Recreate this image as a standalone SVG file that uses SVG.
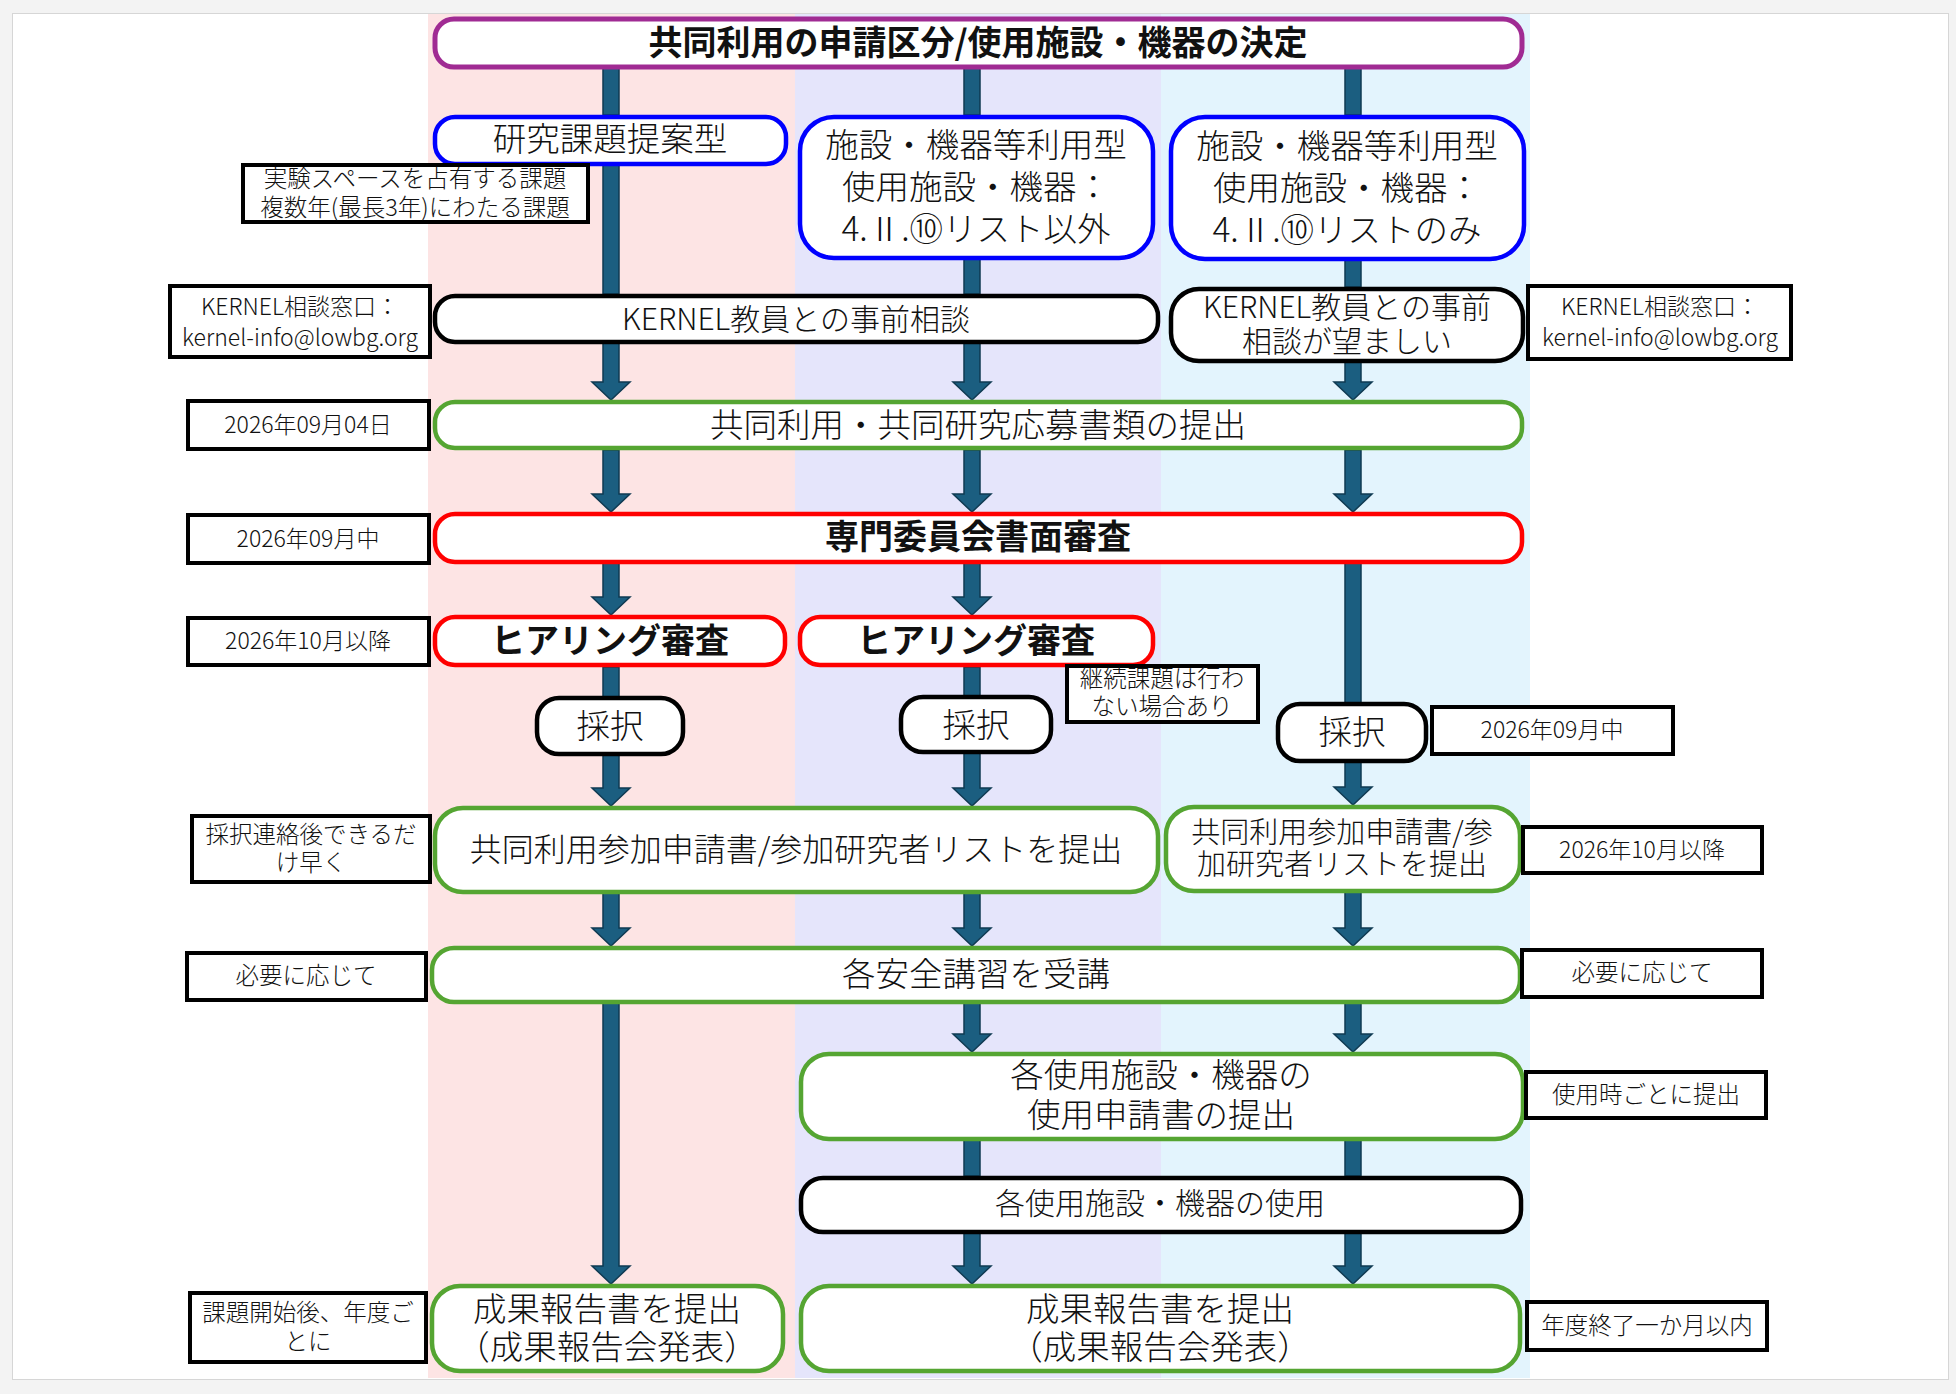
<svg xmlns="http://www.w3.org/2000/svg" width="1956" height="1394" viewBox="0 0 1956 1394">
<style>
text{font-family:"Noto Sans CJK JP","Noto Sans",sans-serif;fill:#111;text-anchor:middle;dominant-baseline:central;font-weight:300;transform:translateY(-2px)}
.t33{font-size:33.5px}
.t32{font-size:32px}
.t30{font-size:30px}
.t29{font-size:29px}
.b33{font-size:34px;font-weight:700}
.n{font-size:23.5px}
.np{font-size:23px}
.box{fill:#fff}
.pur{stroke:#a02b93;stroke-width:5}
.blu{stroke:#0000ff;stroke-width:4.5}
.red{stroke:#ff0000;stroke-width:4.5}
.grn{stroke:#55a532;stroke-width:4.5}
.blk{stroke:#000;stroke-width:4.5}
.note{fill:#fff;stroke:#000;stroke-width:4}
.sh{fill:#1b5e80;stroke:#0f3a52;stroke-width:1.5}
</style>
<rect x="0" y="0" width="1956" height="1394" fill="#f3f3f3"/>
<rect x="12.5" y="13.5" width="1936" height="1366" fill="#fff" stroke="#d6d6d6" stroke-width="1"/>
<g id="lanes">
<rect x="428" y="14" width="367" height="1364" fill="#fde4e4"/>
<rect x="795" y="14" width="366" height="1364" fill="#e5e5fb"/>
<rect x="1161" y="14" width="369" height="1364" fill="#e3f4fd"/>
</g>
<g id="connectors">
<rect class="sh" x="603" y="67" width="16" height="48"/>
<rect class="sh" x="603" y="165" width="16" height="129"/>
<path class="sh" d="M603,343 H619 V382 H630 L611,400 L592,382 H603 Z"/>
<path class="sh" d="M603,450 H619 V494 H630 L611,512 L592,494 H603 Z"/>
<path class="sh" d="M603,563 H619 V597 H630 L611,615 L592,597 H603 Z"/>
<rect class="sh" x="603" y="667" width="16" height="30"/>
<path class="sh" d="M603,755 H619 V788 H630 L611,806 L592,788 H603 Z"/>
<path class="sh" d="M603,893 H619 V928 H630 L611,946 L592,928 H603 Z"/>
<path class="sh" d="M603,1003 H619 V1266 H630 L611,1284 L592,1266 H603 Z"/>
<rect class="sh" x="964" y="67" width="16" height="48"/>
<rect class="sh" x="964" y="258" width="16" height="36"/>
<path class="sh" d="M964,343 H980 V382 H991 L972,400 L953,382 H964 Z"/>
<path class="sh" d="M964,450 H980 V494 H991 L972,512 L953,494 H964 Z"/>
<path class="sh" d="M964,563 H980 V597 H991 L972,615 L953,597 H964 Z"/>
<rect class="sh" x="964" y="667" width="16" height="29"/>
<path class="sh" d="M964,753 H980 V788 H991 L972,806 L953,788 H964 Z"/>
<path class="sh" d="M964,893 H980 V928 H991 L972,946 L953,928 H964 Z"/>
<path class="sh" d="M964,1003 H980 V1034 H991 L972,1052 L953,1034 H964 Z"/>
<rect class="sh" x="964" y="1140" width="16" height="36"/>
<path class="sh" d="M964,1233 H980 V1266 H991 L972,1284 L953,1266 H964 Z"/>
<rect class="sh" x="1345" y="67" width="16" height="48"/>
<rect class="sh" x="1345" y="260" width="16" height="27"/>
<path class="sh" d="M1345,362 H1361 V382 H1372 L1353,400 L1334,382 H1345 Z"/>
<path class="sh" d="M1345,450 H1361 V494 H1372 L1353,512 L1334,494 H1345 Z"/>
<rect class="sh" x="1345" y="563" width="16" height="140"/>
<path class="sh" d="M1345,762 H1361 V787 H1372 L1353,805 L1334,787 H1345 Z"/>
<path class="sh" d="M1345,892 H1361 V928 H1372 L1353,946 L1334,928 H1345 Z"/>
<path class="sh" d="M1345,1003 H1361 V1034 H1372 L1353,1052 L1334,1034 H1345 Z"/>
<rect class="sh" x="1345" y="1140" width="16" height="36"/>
<path class="sh" d="M1345,1233 H1361 V1266 H1372 L1353,1284 L1334,1266 H1345 Z"/>
</g>
<g id="n-title"><rect class="box pur" x="435" y="19" width="1087" height="48" rx="19"/><text class="b33" x="978" y="42">共同利用の申請区分/使用施設・機器の決定</text></g>
<g id="n-kenkyu"><rect class="box blu" x="435" y="117" width="351" height="47" rx="20"/><text class="t33" x="610" y="138">研究課題提案型</text></g>
<g id="n-shisetsu1"><rect class="box blu" x="800" y="117" width="353" height="141" rx="34"/><text class="t33"><tspan x="976" y="144">施設・機器等利用型</tspan><tspan x="976" y="186">使用施設・機器：</tspan><tspan x="976" y="228">4.Ⅱ.⑩リスト以外</tspan></text></g>
<g id="n-shisetsu2"><rect class="box blu" x="1171" y="117" width="353" height="142" rx="34"/><text class="t33"><tspan x="1347" y="145">施設・機器等利用型</tspan><tspan x="1347" y="187">使用施設・機器：</tspan><tspan x="1347" y="229">4.Ⅱ.⑩リストのみ</tspan></text></g>
<g id="n-kernel1"><rect class="box blk" x="435" y="296" width="723" height="46" rx="20"/><text class="t30" x="796" y="319">KERNEL教員との事前相談</text></g>
<g id="n-kernel2"><rect class="box blk" x="1171" y="289" width="352" height="72" rx="28"/><text class="t30"><tspan x="1347" y="307">KERNEL教員との事前</tspan><tspan x="1347" y="341">相談が望ましい</tspan></text></g>
<g id="n-oubo"><rect class="box grn" x="435" y="402" width="1087" height="46" rx="20"/><text class="t33" x="978" y="424">共同利用・共同研究応募書類の提出</text></g>
<g id="n-shomen"><rect class="box red" x="435" y="514" width="1087" height="48" rx="20"/><text class="b33" x="978" y="536">専門委員会書面審査</text></g>
<g id="n-hearing1"><rect class="box red" x="435" y="617" width="350" height="48" rx="20"/><text class="b33" x="610" y="640">ヒアリング審査</text></g>
<g id="n-hearing2"><rect class="box red" x="800" y="617" width="353" height="48" rx="20"/><text class="b33" x="976" y="640">ヒアリング審査</text></g>
<g id="n-saitaku1"><rect class="box blk" x="537" y="698" width="146" height="56" rx="22"/><text class="t33" x="610" y="725">採択</text></g>
<g id="n-saitaku2"><rect class="box blk" x="901" y="697" width="150" height="55" rx="22"/><text class="t33" x="976" y="724">採択</text></g>
<g id="n-saitaku3"><rect class="box blk" x="1278" y="704" width="148" height="57" rx="22"/><text class="t33" x="1352" y="731">採択</text></g>
<g id="n-sanka1"><rect class="box grn" x="435" y="808" width="723" height="84" rx="28"/><text class="t32" x="796" y="849">共同利用参加申請書/参加研究者リストを提出</text></g>
<g id="n-sanka2"><rect class="box grn" x="1166" y="807" width="354" height="84" rx="28"/><text class="t29"><tspan x="1342" y="832">共同利用参加申請書/参</tspan><tspan x="1342" y="864">加研究者リストを提出</tspan></text></g>
<g id="n-anzen"><rect class="box grn" x="432" y="948" width="1088" height="54" rx="22"/><text class="t33" x="976" y="973">各安全講習を受講</text></g>
<g id="n-shinsei"><rect class="box grn" x="801" y="1054" width="722" height="85" rx="28"/><text class="t33"><tspan x="1161" y="1074">各使用施設・機器の</tspan><tspan x="1161" y="1114">使用申請書の提出</tspan></text></g>
<g id="n-shiyou"><rect class="box blk" x="801" y="1178" width="720" height="54" rx="22"/><text class="t30" x="1160" y="1203">各使用施設・機器の使用</text></g>
<g id="n-seika1"><rect class="box grn" x="432" y="1286" width="351" height="85" rx="28"/><text class="t33"><tspan x="607" y="1308">成果報告書を提出</tspan><tspan x="607" y="1346">（成果報告会発表）</tspan></text></g>
<g id="n-seika2"><rect class="box grn" x="801" y="1286" width="719" height="85" rx="28"/><text class="t33"><tspan x="1160" y="1308">成果報告書を提出</tspan><tspan x="1160" y="1346">（成果報告会発表）</tspan></text></g>
<g id="notes">
<g id="note-jikken"><rect class="note" x="243" y="165" width="345" height="57"/><text class="n"><tspan x="415" y="179">実験スペースを占有する課題</tspan><tspan x="415" y="208">複数年(最長3年)にわたる課題</tspan></text></g>
<g id="note-kernel-l"><rect class="note" x="170" y="286" width="260" height="71"/><text class="np"><tspan x="300" y="307">KERNEL相談窓口：</tspan><tspan x="300" y="338">kernel-info@lowbg.org</tspan></text></g>
<g id="note-kernel-r"><rect class="note" x="1528" y="286" width="263" height="73"/><text class="np"><tspan x="1660" y="307">KERNEL相談窓口：</tspan><tspan x="1660" y="338">kernel-info@lowbg.org</tspan></text></g>
<g id="note-d1"><rect class="note" x="188" y="401" width="241" height="48"/><text class="np" x="308" y="425">2026年09月04日</text></g>
<g id="note-d2"><rect class="note" x="188" y="515" width="241" height="48"/><text class="np" x="308" y="539">2026年09月中</text></g>
<g id="note-d3"><rect class="note" x="188" y="618" width="241" height="47"/><text class="np" x="308" y="641">2026年10月以降</text></g>
<g id="note-keizoku"><rect class="note" x="1067" y="666" width="191" height="56"/><text class="n"><tspan x="1162" y="679">継続課題は行わ</tspan><tspan x="1162" y="707">ない場合あり</tspan></text></g>
<g id="note-d4"><rect class="note" x="1432" y="707" width="241" height="47"/><text class="np" x="1552" y="730">2026年09月中</text></g>
<g id="note-soon"><rect class="note" x="192" y="816" width="238" height="66"/><text class="n"><tspan x="311" y="835">採択連絡後できるだ</tspan><tspan x="311" y="863">け早く</tspan></text></g>
<g id="note-d5"><rect class="note" x="1523" y="827" width="239" height="46"/><text class="np" x="1642" y="850">2026年10月以降</text></g>
<g id="note-hitsuyou-l"><rect class="note" x="187" y="953" width="239" height="47"/><text class="n" x="306" y="976">必要に応じて</text></g>
<g id="note-hitsuyou-r"><rect class="note" x="1522" y="950" width="240" height="47"/><text class="n" x="1642" y="973">必要に応じて</text></g>
<g id="note-shiyouji"><rect class="note" x="1526" y="1072" width="240" height="46"/><text class="n" x="1646" y="1095">使用時ごとに提出</text></g>
<g id="note-kadai"><rect class="note" x="190" y="1293" width="236" height="69"/><text class="n"><tspan x="308" y="1313">課題開始後、年度ご</tspan><tspan x="308" y="1342">とに</tspan></text></g>
<g id="note-nendo"><rect class="note" x="1527" y="1302" width="240" height="48"/><text class="n" x="1647" y="1326">年度終了一か月以内</text></g>
</g>
</svg>
